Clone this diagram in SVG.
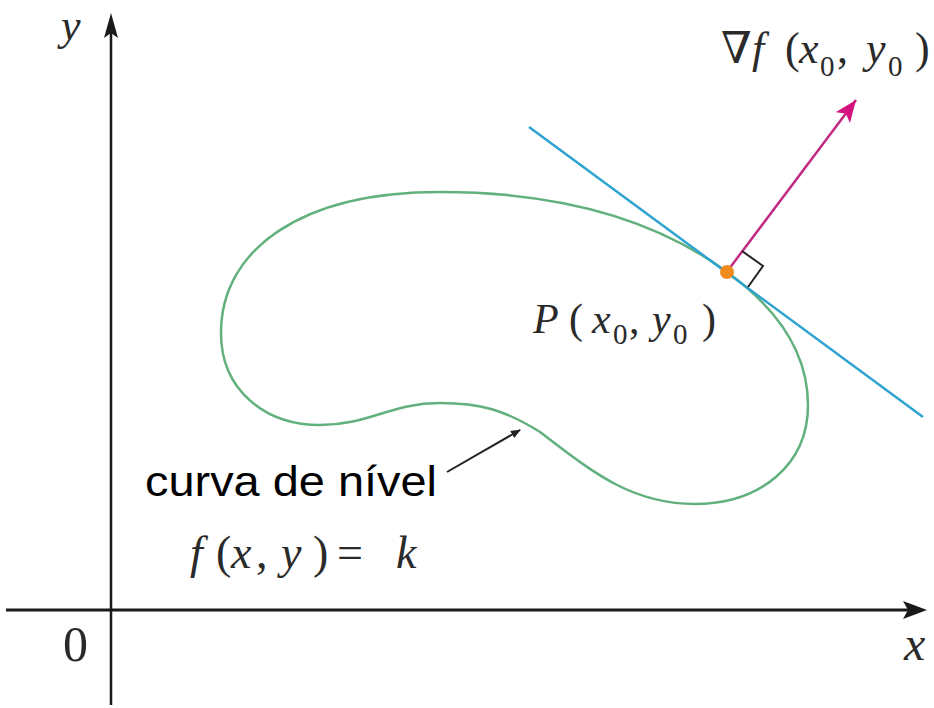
<svg xmlns="http://www.w3.org/2000/svg" width="934" height="708" viewBox="0 0 934 708">
<style>
.math{font-family:"Liberation Serif","DejaVu Serif",serif;fill:#2a2a2a}
.it{font-style:italic}
.sub{font-size:29px}
.axis{stroke:#1a1a1a;fill:none}
</style>
<defs>
<marker id="ah" markerWidth="10" markerHeight="8" refX="9" refY="4" orient="auto" markerUnits="userSpaceOnUse">
<path d="M0,0 L10,4 L0,8 Z" fill="#222"/>
</marker>
<marker id="gh" markerWidth="24" markerHeight="18" refX="22" refY="9" orient="auto" markerUnits="userSpaceOnUse">
<path d="M0,0 L22,9 L0,18 L5,9 Z" fill="#d4137f"/>
</marker>
</defs>
<rect width="934" height="708" fill="#fff"/>
<g id="axes">
<line class="axis" x1="111" y1="705" x2="111" y2="30" stroke-width="2.5"/>
<path d="M111,13 L118,38 L111,33 L104,38 Z" fill="#1a1a1a"/>
<line class="axis" x1="6" y1="610" x2="910" y2="610" stroke-width="3"/>
<path d="M927,610 L903,601 L908,610 L903,619 Z" fill="#1a1a1a"/>
</g>
<g id="curve">
<path d="M727,272 C775,307 808,350 808,405 C808,465 760,504 695,504 C630,504 590,470 540,432 C505,410 480,403 440,403 C390,403 370,425 320,425 C265,425 221,390 221,333 C221,250 300,192 440,192 C580,192 670,230 727,272 Z" fill="none" stroke="#62b07e" stroke-width="2.5"/>
</g>
<g id="tangent">
<line x1="529" y1="127" x2="923" y2="417" stroke="#2fa3cf" stroke-width="2.5"/>
</g>
<g id="connectors">
<line x1="729" y1="269" x2="856" y2="100" stroke="#c02a80" stroke-width="2.5" marker-end="url(#gh)"/>
<line x1="447" y1="472" x2="520" y2="430" stroke="#222" stroke-width="2" marker-end="url(#ah)"/>
<path d="M742,251 L763,266 L748,287" fill="none" stroke="#222" stroke-width="2"/>
</g>
<g id="point">
<circle cx="727" cy="272" r="7" fill="#ef8a1f"/>
</g>
<g id="labels">
<text class="math it" x="61" y="40" font-size="44">y</text>
<text class="math" x="63" y="661" font-size="50">0</text>
<text class="math it" x="904" y="660" font-size="48">x</text>
<text class="math" y="63" font-size="44"><tspan x="721">∇</tspan><tspan class="it" x="752">f</tspan><tspan x="785">(</tspan><tspan class="it" x="799">x</tspan><tspan class="sub" x="820" dy="13">0</tspan><tspan x="837" dy="-13">,</tspan><tspan class="it" x="866">y</tspan><tspan class="sub" x="888" dy="13">0</tspan><tspan x="915" dy="-13">)</tspan></text>
<text class="math" y="333" font-size="42"><tspan class="it" x="533">P</tspan><tspan x="569">(</tspan><tspan class="it" x="592">x</tspan><tspan class="sub" x="613" dy="11">0</tspan><tspan x="629" dy="-11">,</tspan><tspan class="it" x="652">y</tspan><tspan class="sub" x="673" dy="11">0</tspan><tspan x="702" dy="-11">)</tspan></text>
<text x="145" y="496" font-family="Liberation Sans, Arial, sans-serif" font-size="43" fill="#000" textLength="292" lengthAdjust="spacingAndGlyphs">curva de nível</text>
<text class="math" y="568" font-size="46"><tspan class="it" x="190">f</tspan><tspan x="216">(</tspan><tspan class="it" x="231">x</tspan><tspan x="256">,</tspan><tspan class="it" x="281">y</tspan><tspan x="313">)</tspan><tspan x="337">=</tspan><tspan class="it" x="396">k</tspan></text>
</g>
</svg>
